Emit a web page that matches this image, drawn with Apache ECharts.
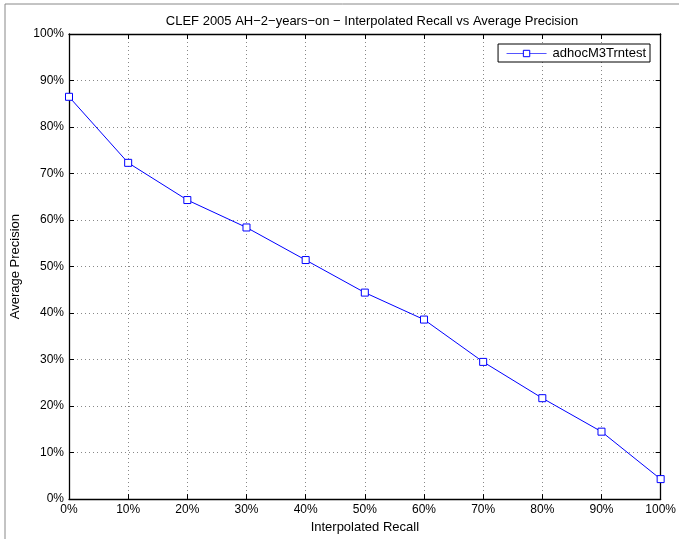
<!DOCTYPE html>
<html>
<head>
<meta charset="utf-8">
<script src="https://cdn.jsdelivr.net/npm/echarts@6/dist/echarts.min.js"></script>
<style>
html,body{margin:0;padding:0;background:#fff;overflow:hidden;}
#main{width:679px;height:539px;}
</style>
</head>
<body>
<div id="main"></div>
<script>
var recall = [0, 10, 20, 30, 40, 50, 60, 70, 80, 90, 100];
var precision = [86.5, 72.3, 64.3, 58.4, 51.4, 44.4, 38.6, 29.5, 21.7, 14.5, 4.3];
var seriesName = 'adhocM3Trntest';
var titleText = 'CLEF 2005 AH\u22122\u2212years\u2212on \u2212 Interpolated Recall vs Average Precision';
var xName = 'Interpolated Recall';
var yName = 'Average Precision';

var chart = echarts.init(document.getElementById('main'), null, {renderer: 'canvas'});
var font = 'Liberation Sans, Arial, sans-serif';
var data = recall.map(function (r, i) { return [r, precision[i]]; });
function pct(v) { return v + '%'; }
var tickStyle = {show: true, inside: true, length: 5, lineStyle: {color: '#000', width: 1}};
var axLine = {show: true, onZero: false, lineStyle: {color: '#000', width: 1.3}};
var grid = {type: [1, 3], color: '#888', width: 1};

chart.setOption({
  animation: false,
  backgroundColor: '#fff',
  title: {
    text: titleText, left: 367, top: 10, textAlign: 'center',
    textStyle: {fontFamily: font, fontSize: 13, fontWeight: 'normal', color: '#000'}
  },
  grid: {left: 69, right: 14, top: 34, bottom: 35, containLabel: false},
  legend: {
    right: 29, top: 44, orient: 'vertical',
    itemWidth: 40, itemHeight: 8, itemGap: 0,
    padding: [3, 4, 2, 8],
    borderColor: '#000', borderWidth: 1, backgroundColor: '#fff',
    itemStyle: {color: '#fff', borderColor: '#0000ff', borderWidth: 1},
    lineStyle: {color: '#5555ff', width: 1},
    textStyle: {fontFamily: font, fontSize: 13, color: '#000', padding: [0, 0, 0, 1]},
    data: [{name: seriesName}]
  },
  xAxis: [{
    type: 'value', min: 0, max: 100, interval: 10, position: 'bottom',
    name: xName, nameLocation: 'middle', nameGap: 20,
    nameTextStyle: {fontFamily: font, fontSize: 13, color: '#000'},
    axisLine: axLine, axisTick: tickStyle,
    axisLabel: {formatter: pct, fontFamily: font, fontSize: 12, color: '#000', margin: 5},
    splitLine: {show: true, lineStyle: grid}
  }, {
    type: 'value', min: 0, max: 100, interval: 10, position: 'top',
    axisLine: axLine, axisTick: tickStyle, axisLabel: {show: false}, splitLine: {show: false}
  }],
  yAxis: [{
    type: 'value', min: 0, max: 100, interval: 10, position: 'left',
    name: yName, nameLocation: 'middle', nameGap: 45, nameRotate: 90,
    nameTextStyle: {fontFamily: font, fontSize: 13, color: '#000'},
    axisLine: axLine, axisTick: tickStyle,
    axisLabel: {formatter: pct, fontFamily: font, fontSize: 12, color: '#000', margin: 5},
    splitLine: {show: true, lineStyle: grid}
  }, {
    type: 'value', min: 0, max: 100, interval: 10, position: 'right',
    axisLine: axLine, axisTick: tickStyle, axisLabel: {show: false}, splitLine: {show: false}
  }],
  graphic: [{
    type: 'rect', silent: true, z: -1,
    shape: {x: 5, y: 4, width: 700, height: 600},
    style: {fill: null, stroke: '#888', lineWidth: 1}
  }],
  series: [{
    name: seriesName, type: 'line', data: data,
    symbol: 'rect', symbolSize: 7,
    itemStyle: {color: '#fff', borderColor: '#0000ff', borderWidth: 1},
    lineStyle: {color: '#0000ff', width: 1},
    color: '#0000ff',
    z: 5
  }]
});
</script>
</body>
</html>
